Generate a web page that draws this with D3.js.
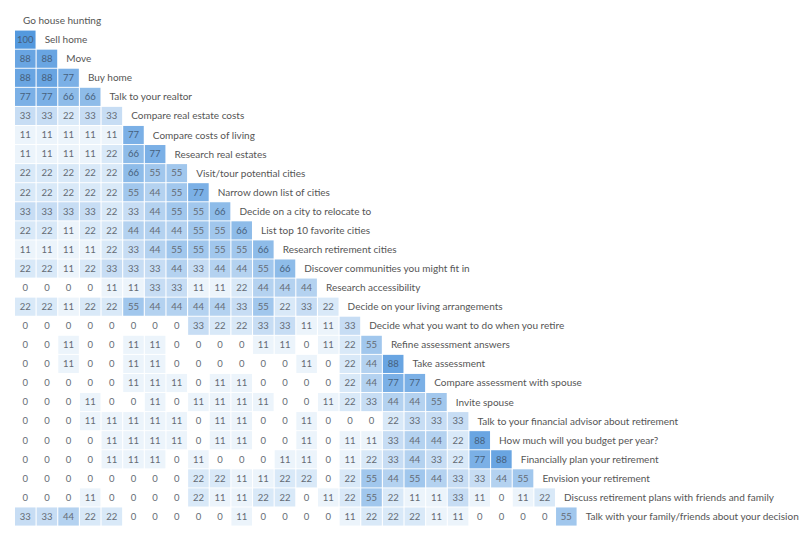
<!DOCTYPE html>
<html>
<head>
<meta charset="utf-8">
<script src="https://cdn.jsdelivr.net/npm/d3@7"></script>
<style>
  body { margin: 0; background: #fff; }
  text { font-family: Lato, "Open Sans", sans-serif; }
</style>
</head>
<body>
<script>
// Step labels, one per row
const steps = [
  "Go house hunting", "Sell home", "Move", "Buy home", "Talk to your realtor",
  "Compare real estate costs", "Compare costs of living", "Research real estates",
  "Visit/tour potential cities", "Narrow down list of cities", "Decide on a city to relocate to",
  "List top 10 favorite cities", "Research retirement cities", "Discover communities you might fit in",
  "Research accessibility", "Decide on your living arrangements",
  "Decide what you want to do when you retire", "Refine assessment answers", "Take assessment",
  "Compare assessment with spouse", "Invite spouse", "Talk to your financial advisor about retirement",
  "How much will you budget per year?", "Financially plan your retirement", "Envision your retirement",
  "Discuss retirement plans with friends and family", "Talk with your family/friends about your decision"
];

// lower triangle, row i has i values
const values = [
  [],
  [100],
  [88, 88],
  [88, 88, 77],
  [77, 77, 66, 66],
  [33, 33, 22, 33, 33],
  [11, 11, 11, 11, 11, 77],
  [11, 11, 11, 11, 22, 66, 77],
  [22, 22, 22, 22, 22, 66, 55, 55],
  [22, 22, 22, 22, 22, 55, 44, 55, 77],
  [33, 33, 33, 33, 22, 33, 44, 55, 55, 66],
  [22, 22, 11, 22, 22, 44, 44, 44, 55, 55, 66],
  [11, 11, 11, 11, 22, 33, 44, 55, 55, 55, 55, 66],
  [22, 22, 11, 22, 33, 33, 33, 44, 33, 44, 44, 55, 66],
  [0, 0, 0, 0, 11, 11, 33, 33, 11, 11, 22, 44, 44, 44],
  [22, 22, 11, 22, 22, 55, 44, 44, 44, 44, 33, 55, 22, 33, 22],
  [0, 0, 0, 0, 0, 0, 0, 0, 33, 22, 22, 33, 33, 11, 11, 33],
  [0, 0, 11, 0, 0, 11, 11, 0, 0, 0, 0, 11, 11, 0, 11, 22, 55],
  [0, 0, 11, 0, 0, 11, 11, 0, 0, 0, 0, 0, 0, 11, 0, 22, 44, 88],
  [0, 0, 0, 0, 0, 11, 11, 11, 0, 11, 11, 0, 0, 0, 0, 22, 44, 77, 77],
  [0, 0, 0, 11, 0, 0, 11, 0, 11, 11, 11, 11, 0, 0, 11, 22, 33, 44, 44, 55],
  [0, 0, 0, 11, 11, 11, 11, 11, 0, 11, 11, 0, 0, 11, 0, 0, 0, 22, 33, 33, 33],
  [0, 0, 0, 0, 11, 11, 11, 11, 0, 11, 11, 0, 0, 11, 0, 11, 11, 33, 44, 44, 22, 88],
  [0, 0, 0, 0, 11, 11, 11, 0, 11, 0, 0, 0, 11, 11, 0, 11, 22, 33, 44, 33, 22, 77, 88],
  [0, 0, 0, 0, 0, 0, 0, 0, 22, 22, 11, 11, 22, 22, 0, 22, 55, 44, 55, 44, 33, 33, 44, 55],
  [0, 0, 0, 11, 0, 0, 0, 0, 22, 11, 11, 22, 22, 0, 11, 22, 55, 22, 11, 11, 33, 11, 0, 11, 22],
  [33, 33, 44, 22, 22, 0, 0, 0, 0, 0, 11, 0, 0, 0, 0, 11, 22, 22, 22, 11, 11, 0, 0, 0, 0, 55]
];

const width = 810, height = 540;
const svg = d3.select("body").append("svg")
  .attr("width", width)
  .attr("height", height);

const rows = d3.range(steps.length);
const cols = d3.range(steps.length - 1);

const y = d3.scaleBand().domain(rows).range([11.5, 11.5 + 27 * 19.04]).paddingInner(0.05);
const x = d3.scaleBand().domain(cols).range([15, 15 + 26 * 21.6]).paddingInner(0.05);

const color = d3.scaleLinear().domain([0, 100]).range(["#ffffff", "#5499de"]);

const cells = [];
values.forEach((row, i) => row.forEach((v, j) => cells.push({ row: i, col: j, v })));

const g = svg.append("g");

g.selectAll("rect.cell")
  .data(cells)
  .enter()
  .append("rect")
  .attr("class", "cell")
  .attr("x", d => x(d.col))
  .attr("y", d => y(d.row))
  .attr("width", x.bandwidth())
  .attr("height", y.bandwidth())
  .attr("fill", d => color(d.v));

g.selectAll("text.val")
  .data(cells)
  .enter()
  .append("text")
  .attr("class", "val")
  .attr("x", d => x(d.col) + x.bandwidth() / 2)
  .attr("y", d => y(d.row) + y.bandwidth() / 2)
  .attr("dy", "0.35em")
  .attr("text-anchor", "middle")
  .attr("font-size", 9.5)
  .attr("fill", d => d.v >= 60 ? "#46607c" : "#646b74")
  .text(d => d.v);

// step labels to the right of each row
g.selectAll("text.step")
  .data(steps)
  .enter()
  .append("text")
  .attr("class", "step")
  .attr("x", (d, i) => (i === 0 ? x(0) : x(i - 1) + x.step()) + 8)
  .attr("y", (d, i) => y(i) + y.bandwidth() / 2)
  .attr("dy", "0.35em")
  .attr("font-size", 10)
  .attr("fill", "#555")
  .text(d => d);
</script>
</body>
</html>
